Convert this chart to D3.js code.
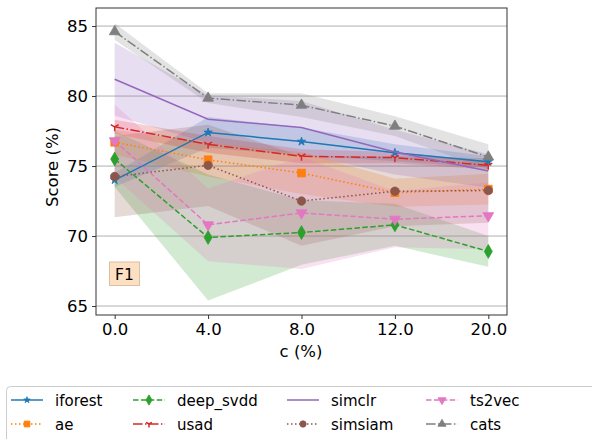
<!DOCTYPE html>
<html>
<head>
<meta charset="utf-8">
<script src="https://cdn.jsdelivr.net/npm/d3@7"></script>
<style>
body { margin: 0; background: #fff; }
text { font-family: "DejaVu Sans", sans-serif; fill: #000; }
</style>
</head>
<body>
<script>
const xTickLabels = ["0.0", "4.0", "8.0", "12.0", "20.0"];
const yTicks = [65, 70, 75, 80, 85];

const names = ["iforest", "ae", "deep_svdd", "usad", "simclr", "simsiam", "ts2vec", "cats"];
const iforest   = [74.0, 77.4, 76.75, 75.95, 75.3];
const ae        = [76.7, 75.45, 74.5, 73.1, 73.35];
const deep_svdd = [75.5, 69.9, 70.25, 70.8, 68.9];
const usad      = [77.8, 76.55, 75.7, 75.6, 75.05];
const simclr    = [81.2, 78.35, 77.75, 76.0, 74.65];
const simsiam   = [74.25, 75.05, 72.5, 73.2, 73.25];
const ts2vec    = [76.8, 70.8, 71.65, 71.2, 71.45];
const cats      = [84.6, 79.85, 79.35, 77.85, 75.65];

// std used for the shaded bands
const iforestStd   = [0.5, 1.1, 1.0, 0.6, 0.4];
const aeStd        = [0.9, 1.2, 1.5, 1.0, 1.1];
const deep_svddStd = [2.0, 4.5, 2.3, 1.5, 1.1];
const usadStd      = [0.5, 0.6, 0.5, 0.4, 0.3];
const simclrStd    = [2.6, 1.7, 1.9, 1.6, 1.2];
const simsiamStd   = [2.9, 2.9, 3.2, 2.5, 2.3];
const ts2vecStd    = [2.6, 2.6, 4.0, 2.0, 2.4];
const catsStd      = [0.6, 0.35, 0.85, 0.7, 0.9];

const means = [iforest, ae, deep_svdd, usad, simclr, simsiam, ts2vec, cats];
const stds = [iforestStd, aeStd, deep_svddStd, usadStd, simclrStd, simsiamStd, ts2vecStd, catsStd];
const colors = ["#1f77b4", "#ff7f0e", "#2ca02c", "#d62728", "#9467bd", "#8c564b", "#e377c2", "#7f7f7f"];
const dashes = [null, "1.5,2.5", "5.5,2.4", "9.6,2.4,1.5,2.4", null, "1.5,2.5", "5.5,2.4", "9.6,2.4,1.5,2.4"];
const markers = ["star", "square", "diamond", "tri", null, "circle", "tridown", "triangle"];

const svg = d3.select("body")
	.append("svg")
	.attr("width", 592)
	.attr("height", 439);

const x = d3.scaleLinear().domain([-0.2, 4.2]).range([96, 507]);
const y = d3.scaleLinear().domain([64.36, 86.29]).range([315, 8]);

// grid
svg.append("g")
	.selectAll("line")
	.data(yTicks)
	.enter()
	.append("line")
	.attr("x1", 96).attr("x2", 507)
	.attr("y1", d => y(d)).attr("y2", d => y(d))
	.attr("stroke", "#b0b0b0")
	.attr("stroke-width", 1);

function markerPath(kind, scale) {
	const s = scale || 1;
	if (kind == "star") return d3.symbol(d3.symbolStar, 22 * s * s)();
	if (kind == "square") return d3.symbol(d3.symbolSquare, 60 * s * s)();
	if (kind == "diamond") return d3.symbol(d3.symbolDiamond, 55 * s * s)();
	if (kind == "circle") return d3.symbol(d3.symbolCircle, 56 * s * s)();
	if (kind == "triangle") return d3.symbol(d3.symbolTriangle, 50 * s * s)();
	if (kind == "tridown") return d3.symbol(d3.symbolTriangle, 50 * s * s)();
	if (kind == "tri") {
		const r = 4.5 * s;
		return "M0,0L0," + r + "M0,0L" + (-r * 0.87) + "," + (-r * 0.5) + "M0,0L" + (r * 0.87) + "," + (-r * 0.5);
	}
	return null;
}

function drawMarker(g, kind, color, px, py, scale) {
	const p = g.append("path")
		.attr("d", markerPath(kind, scale))
		.attr("transform", "translate(" + px + "," + py + ")" + (kind == "tridown" ? " rotate(180)" : ""));
	if (kind == "tri") {
		p.attr("fill", "none").attr("stroke", color).attr("stroke-width", 1.5);
	} else {
		p.attr("fill", color).attr("stroke", color).attr("stroke-width", 0.8);
	}
}

const area = d3.area()
	.x((d, i) => x(i))
	.y0(d => y(d[0] - d[1]))
	.y1(d => y(d[0] + d[1]));

const line = d3.line()
	.x((d, i) => x(i))
	.y(d => y(d));

// bands
means.forEach((m, k) => {
	svg.append("path")
		.datum(m.map((v, i) => [v, stds[k][i]]))
		.attr("d", area)
		.attr("fill", colors[k])
		.attr("fill-opacity", 0.22);
});

// lines and markers
means.forEach((m, k) => {
	svg.append("path")
		.datum(m)
		.attr("d", line)
		.attr("fill", "none")
		.attr("stroke", colors[k])
		.attr("stroke-width", 1.5)
		.attr("stroke-dasharray", dashes[k]);
	if (markers[k]) {
		m.forEach((v, i) => drawMarker(svg, markers[k], colors[k], x(i), y(v), 1));
	}
});

// frame
svg.append("rect")
	.attr("x", 96).attr("y", 8)
	.attr("width", 411).attr("height", 307)
	.attr("fill", "none")
	.attr("stroke", "#333")
	.attr("stroke-width", 1);

// axes
const xAxis = svg.append("g")
	.attr("transform", "translate(0,315)")
	.call(d3.axisBottom(x).tickValues([0, 1, 2, 3, 4]).tickFormat((d, i) => xTickLabels[i]).tickSize(4).tickPadding(4));
const yAxis = svg.append("g")
	.attr("transform", "translate(96,0)")
	.call(d3.axisLeft(y).tickValues(yTicks).tickSize(4).tickPadding(4));
[xAxis, yAxis].forEach(a => {
	a.select(".domain").remove();
	a.selectAll("line").attr("stroke", "#333");
	a.selectAll("text").style("font-family", "DejaVu Sans").style("font-size", "16.5px").attr("fill", "#000");
});

svg.append("text")
	.attr("x", 301).attr("y", 357)
	.attr("text-anchor", "middle")
	.style("font-size", "16.5px")
	.text("c (%)");

svg.append("text")
	.attr("transform", "translate(58,167) rotate(-90)")
	.attr("text-anchor", "middle")
	.style("font-size", "16.5px")
	.text("Score (%)");

// F1 box
svg.append("rect")
	.attr("x", 109.5).attr("y", 262)
	.attr("width", 30).attr("height", 23.5)
	.attr("fill", "#fde0c2")
	.attr("stroke", "#d9c0a3")
	.attr("stroke-width", 1);
svg.append("text")
	.attr("x", 124.5).attr("y", 279.5)
	.attr("text-anchor", "middle")
	.style("font-size", "15.5px")
	.text("F1");

// legend
const legend = svg.append("g");
legend.append("rect")
	.attr("x", 6.5).attr("y", 386.5)
	.attr("width", 620).attr("height", 70)
	.attr("rx", 4)
	.attr("fill", "#fff")
	.attr("stroke", "#cccccc")
	.attr("stroke-width", 1);

const colX = [11, 133, 287, 426];
const rowY = [400, 424];
names.forEach((n, k) => {
	const cx = colX[Math.floor(k / 2)];
	const cy = rowY[k % 2];
	legend.append("line")
		.attr("x1", cx).attr("x2", cx + 32)
		.attr("y1", cy).attr("y2", cy)
		.attr("stroke", colors[k])
		.attr("stroke-width", 1.5)
		.attr("stroke-dasharray", dashes[k]);
	if (markers[k]) drawMarker(legend, markers[k], colors[k], cx + 16, cy, 0.75);
	legend.append("text")
		.attr("x", cx + 44).attr("y", cy + 5.5)
		.style("font-size", "15px")
		.text(n);
});
</script>
</body>
</html>
